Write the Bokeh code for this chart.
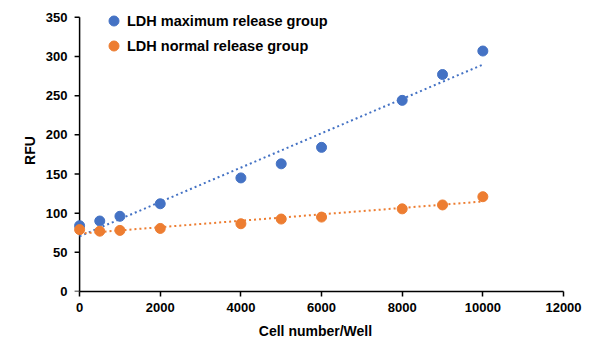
import numpy as np
from bokeh.plotting import figure
from bokeh.models import Range1d, Legend, LegendItem, FixedTicker
from bokeh.embed import file_html
from bokeh.resources import INLINE

cells = [0, 500, 1000, 2000, 4000, 5000, 6000, 8000, 9000, 10000]
max_release = [84, 90, 96, 112, 145, 163, 184, 244, 277, 307]
normal_release = [79, 77, 78, 80.5, 86.5, 92.5, 95, 105.5, 110.5, 121]
x_ticks = [0, 2000, 4000, 6000, 8000, 10000, 12000]
y_ticks = [0, 50, 100, 150, 200, 250, 300, 350]

BLUE = "#4472C4"
ORANGE = "#ED7D31"
FONT = "Liberation Sans"

X0, X1 = -300, 12000
FRAME_L, FRAME_R = 67, 563
p = figure(width=601, height=341, output_backend="svg", toolbar_location=None,
           x_range=Range1d(X0, X1), y_range=Range1d(0, 360),
           min_border_left=FRAME_L, min_border_right=601 - FRAME_R, min_border_top=9,
           min_border_bottom=50)
p.outline_line_color = None
p.xgrid.visible = False
p.ygrid.visible = False

for ax in (p.xaxis[0], p.yaxis[0]):
    ax.axis_line_color = "#000000"
    ax.axis_line_width = 1.5
    ax.major_tick_line_color = "#000000"
    ax.major_tick_line_width = 1.5
    ax.major_tick_out = 5
    ax.major_tick_in = 0
    ax.minor_tick_line_color = None
    ax.major_label_text_font = FONT
    ax.major_label_text_font_style = "bold"
    ax.major_label_text_font_size = "13px"
    ax.major_label_text_color = "#000000"
    ax.axis_label_text_font = FONT
    ax.axis_label_text_font_style = "bold"
    ax.axis_label_text_font_size = "14px"
    ax.axis_label_text_color = "#000000"

p.xaxis.ticker = FixedTicker(ticks=x_ticks)
p.yaxis.ticker = FixedTicker(ticks=y_ticks)
p.xaxis.bounds = (0, 12000)
p.xaxis.axis_label = "Cell number/Well"
p.yaxis.axis_label = "RFU"
p.xaxis.major_label_standoff = 6
p.xaxis.axis_label_standoff = 8
# y axis: labels from the left axis, line and ticks drawn at x = 0
p.yaxis.axis_line_color = None
p.yaxis.major_tick_line_color = None
p.yaxis.major_tick_out = 0
p.yaxis.major_label_standoff = 0
p.yaxis.axis_label_standoff = 5

units_per_px = (X1 - X0) / (FRAME_R - FRAME_L)
tick_len = 5 * units_per_px
p.segment(x0=[0], y0=[y_ticks[0]], x1=[0], y1=[y_ticks[-1]],
          line_color="#000000", line_width=1.5)
p.segment(x0=[0] * len(y_ticks), y0=y_ticks, x1=[-tick_len] * len(y_ticks), y1=y_ticks,
          line_color="#000000", line_width=1.5)

# linear trendlines (least-squares fits of the data)
xs = np.array(cells, dtype=float)
for ys, col in ((max_release, BLUE), (normal_release, ORANGE)):
    k, b = np.polyfit(xs, np.array(ys, dtype=float), 1)
    p.line([xs.min(), xs.max()], [b + k * xs.min(), b + k * xs.max()],
           line_color=col, line_width=2, line_dash="2 3")

r1 = p.scatter(cells, max_release, size=10, fill_color=BLUE, line_color=BLUE)
r2 = p.scatter(cells, normal_release, size=10, fill_color=ORANGE, line_color=ORANGE)

legend = Legend(items=[LegendItem(label="LDH maximum release group", renderers=[r1]),
                       LegendItem(label="LDH normal release group", renderers=[r2])],
                location=(34, 233), orientation="vertical")
legend.background_fill_alpha = 0
legend.border_line_color = None
legend.padding = 0
legend.margin = 0
legend.spacing = 0
legend.glyph_width = 25
legend.glyph_height = 25
legend.label_height = 25
legend.label_standoff = 1
legend.label_text_font = FONT
legend.label_text_font_style = "bold"
legend.label_text_font_size = "14.5px"
legend.label_text_color = "#000000"
p.add_layout(legend, "center")

open("out.html", "w").write(file_html(p, INLINE))
